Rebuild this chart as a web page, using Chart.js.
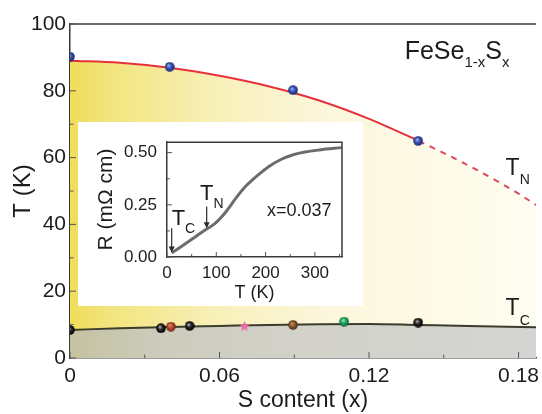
<!DOCTYPE html>
<html>
<head>
<meta charset="utf-8">
<script src="https://cdn.jsdelivr.net/npm/chart.js@4.4.1/dist/chart.umd.min.js"></script>
<style>
  html, body { margin: 0; padding: 0; background: #fff; }
  #wrap { position: relative; width: 542px; height: 414px; overflow: hidden; }
  #inset { position: absolute; left: 78px; top: 122px; width: 285px; height: 184px; background: #fff; }
  canvas { display: block; }
</style>
</head>
<body>
<div id="wrap">
  <canvas id="phaseChart" width="542" height="414"></canvas>
  <div id="inset"><canvas id="resChart" width="285" height="184"></canvas></div>
</div>
<script>
const FONT = "'Liberation Sans', Arial, sans-serif";
const TEXT = "#1c1c1c";

// T_N(x) : measured points + drawn boundary
const tnX = [0, 0.040, 0.0895, 0.1397];
const tnT = [90.2, 87.2, 80.2, 65.0];
const tnLineX = [0, 0.02, 0.04, 0.06, 0.08, 0.10, 0.12, 0.14];
const tnLineT = [89.0, 88.4, 86.9, 84.5, 81.3, 77.1, 71.6, 65.0];
const tnDashX = [0.14, 0.16, 0.18, 0.187];
const tnDashT = [65.0, 57.6, 49.2, 45.8];

// T_c(x)
const tcLineX = [0, 0.02, 0.04, 0.06, 0.08, 0.10, 0.12, 0.14, 0.16, 0.187];
const tcLineT = [8.4, 8.9, 9.3, 9.6, 9.9, 10.1, 10.2, 9.9, 9.6, 9.2];
const tcBlackX = [0, 0.0365, 0.048, 0.1397];
const tcBlackT = [8.4, 8.9, 9.6, 10.6];
const tcRedX = [0.0405];
const tcRedT = [9.4];
const tcPinkX = [0.070];
const tcPinkT = [9.6];
const tcBrownX = [0.0895];
const tcBrownT = [9.9];
const tcGreenX = [0.110];
const tcGreenT = [10.9];

const xTicks = [0, 0.06, 0.12, 0.18];
const xMinor = [0.03, 0.09, 0.15];
const yTicks = [0, 20, 40, 60, 80, 100];
const yMinor = [10, 30, 50, 70, 90];

// inset: R(T) for x = 0.037
const resT = [9.5, 20, 40, 60, 80.5, 90, 100, 110, 120, 130, 141, 160, 175, 190, 209, 230, 256, 280, 310, 354];
const resR = [0.019, 0.036, 0.068, 0.101, 0.134, 0.148, 0.166, 0.190, 0.218, 0.250, 0.286, 0.340, 0.373, 0.403, 0.437, 0.466, 0.490, 0.503, 0.513, 0.524];
const arrowT = [9.5, 80.5];
const arrowFrom = [0.138, 0.242];
const arrowTo = [0.022, 0.138];

const resXTicks = [0, 100, 200, 300];
const resXMinor = [50, 150, 250, 350];
const resYTicks = [0, 0.25, 0.5];
const resYMinor = [0.125, 0.375];

function pts(xs, ys) {
  return xs.map((x, i) => ({ x: x, y: ys[i] }));
}

function ball(light, mid, dark, size) {
  const c = document.createElement("canvas");
  c.width = c.height = size;
  const g = c.getContext("2d");
  const r = size / 2;
  const grad = g.createRadialGradient(r * 0.75, r * 0.7, 0, r, r, r);
  grad.addColorStop(0, light);
  grad.addColorStop(0.5, mid);
  grad.addColorStop(1, dark);
  g.fillStyle = grad;
  g.beginPath();
  g.arc(r, r, r - 0.2, 0, Math.PI * 2);
  g.fill();
  return c;
}

function star(color, size) {
  const c = document.createElement("canvas");
  c.width = c.height = size;
  const g = c.getContext("2d");
  const r = size / 2;
  g.fillStyle = color;
  g.beginPath();
  for (let i = 0; i < 10; i++) {
    const a = -Math.PI / 2 + i * Math.PI / 5;
    const rr = i % 2 === 0 ? r : r * 0.45;
    g.lineTo(r + rr * Math.cos(a), r + 0.6 + rr * Math.sin(a));
  }
  g.closePath();
  g.fill();
  return c;
}

const blueBall = ball("#a9bdf2", "#3553b5", "#15236a", 10);
const blackBall = ball("#c8c8c8", "#202020", "#000000", 10);
const redBall = ball("#e89080", "#b04a32", "#6a1e10", 10);
const brownBall = ball("#c89a68", "#8a5a30", "#482810", 10);
const greenBall = ball("#9af0c4", "#22aa62", "#0a5a30", 10);
const pinkStar = star("#f06aa8", 11);

function yellowFill(ctx) {
  const area = ctx.chart.chartArea;
  if (!area) return "rgba(0,0,0,0)";
  const g = ctx.chart.ctx.createLinearGradient(area.left, 0, area.right, 0);
  g.addColorStop(0, "#efdd5a");
  g.addColorStop(0.08, "#f2e47c");
  g.addColorStop(0.3, "#f8efb6");
  g.addColorStop(0.55, "#fcf7dc");
  g.addColorStop(1, "#fffdf1");
  return g;
}

function grayFill(ctx) {
  const area = ctx.chart.chartArea;
  if (!area) return "rgba(0,0,0,0)";
  const g = ctx.chart.ctx.createLinearGradient(area.left, 0, area.right, 0);
  g.addColorStop(0, "#c5c2a0");
  g.addColorStop(0.2, "#cdccbd");
  g.addColorStop(0.5, "#d2d2ca");
  g.addColorStop(1, "#d4d4d2");
  return g;
}

function markerSet(xs, ys, img) {
  return {
    data: pts(xs, ys),
    pointStyle: img,
    pointRadius: 5,
    showLine: false,
    clip: 0,
  };
}

// draws "T" + subscript style labels
function subText(ctx, x, y, parts) {
  let cx = x;
  parts.forEach(p => {
    ctx.font = p[1] + "px " + FONT;
    ctx.fillText(p[0], cx, y + p[2]);
    cx += ctx.measureText(p[0]).width;
  });
}

function inwardTicks(ctx, xs, ys, xMaj, xMin, yMaj, yMin, big, small) {
  const area = { left: xs.left, right: xs.right, top: ys.top, bottom: ys.bottom };
  ctx.beginPath();
  xMaj.forEach(v => { const p = xs.getPixelForValue(v); ctx.moveTo(p, area.bottom); ctx.lineTo(p, area.bottom - big); });
  xMin.forEach(v => { const p = xs.getPixelForValue(v); ctx.moveTo(p, area.bottom); ctx.lineTo(p, area.bottom - small); });
  yMaj.forEach(v => { const p = ys.getPixelForValue(v); ctx.moveTo(area.left, p); ctx.lineTo(area.left + big, p); });
  yMin.forEach(v => { const p = ys.getPixelForValue(v); ctx.moveTo(area.left, p); ctx.lineTo(area.left + small, p); });
  ctx.stroke();
}

const phaseDecor = {
  id: "phaseDecor",
  afterDraw(chart) {
    const ctx = chart.ctx;
    const xs = chart.scales.x;
    const ys = chart.scales.y;
    const area = chart.chartArea;
    ctx.save();
    ctx.strokeStyle = "#3a3a3a";
    ctx.lineWidth = 1.5;
    ctx.beginPath();
    ctx.moveTo(area.left, area.top);
    ctx.lineTo(area.right, area.top);
    ctx.stroke();
    ctx.lineWidth = 1;
    ctx.strokeStyle = "#555";
    inwardTicks(ctx, xs, ys, xTicks, xMinor, yTicks, yMinor, 6, 3.5);

    ctx.fillStyle = TEXT;
    ctx.textBaseline = "alphabetic";
    ctx.textAlign = "left";
    subText(ctx, xs.getPixelForValue(0.1343), ys.getPixelForValue(89.5),
      [["FeSe", 25, 0], ["1-x", 15, 8], ["S", 25, 0], ["x", 15, 8]]);
    subText(ctx, xs.getPixelForValue(0.1748), ys.getPixelForValue(54.8),
      [["T", 23, 0], ["N", 14, 9]]);
    subText(ctx, xs.getPixelForValue(0.1748), ys.getPixelForValue(12.9),
      [["T", 23, 0], ["C", 14, 10]]);
    ctx.restore();
  },
};

const resDecor = {
  id: "resDecor",
  afterDraw(chart) {
    const ctx = chart.ctx;
    const xs = chart.scales.x;
    const ys = chart.scales.y;
    const area = chart.chartArea;
    ctx.save();
    ctx.strokeStyle = "#3a3a3a";
    ctx.lineWidth = 1.5;
    ctx.beginPath();
    ctx.moveTo(area.left, area.top);
    ctx.lineTo(area.right, area.top);
    ctx.lineTo(area.right, area.bottom);
    ctx.stroke();
    ctx.lineWidth = 1;
    ctx.strokeStyle = "#555";
    inwardTicks(ctx, xs, ys, resXTicks, resXMinor, resYTicks, resYMinor, 5, 3);

    // arrows at T_c and T_N
    ctx.strokeStyle = "#2a2a2a";
    ctx.fillStyle = "#2a2a2a";
    ctx.lineWidth = 1.2;
    for (let i = 0; i < arrowT.length; i++) {
      const px = xs.getPixelForValue(arrowT[i]);
      const y0 = ys.getPixelForValue(arrowFrom[i]);
      const y1 = ys.getPixelForValue(arrowTo[i]);
      ctx.beginPath();
      ctx.moveTo(px, y0);
      ctx.lineTo(px, y1 - 5);
      ctx.stroke();
      ctx.beginPath();
      ctx.moveTo(px - 3, y1 - 6);
      ctx.lineTo(px + 3, y1 - 6);
      ctx.lineTo(px, y1);
      ctx.closePath();
      ctx.fill();
    }

    ctx.fillStyle = TEXT;
    ctx.textAlign = "left";
    ctx.textBaseline = "alphabetic";
    subText(ctx, xs.getPixelForValue(9.5), ys.getPixelForValue(0.152), [["T", 22, 0], ["C", 14, 8]]);
    subText(ctx, xs.getPixelForValue(67), ys.getPixelForValue(0.272), [["T", 22, 0], ["N", 14, 8]]);
    ctx.font = "18px " + FONT;
    ctx.fillText("x=0.037", xs.getPixelForValue(203), ys.getPixelForValue(0.198));
    ctx.restore();
  },
};

const tnFillX = tnLineX.concat(tnDashX.slice(1));
const tnFillT = tnLineT.concat(tnDashT.slice(1));

new Chart(document.getElementById("phaseChart"), {
  type: "scatter",
  data: {
    datasets: [
      markerSet(tnX, tnT, blueBall),
      markerSet(tcBlackX, tcBlackT, blackBall),
      markerSet(tcRedX, tcRedT, redBall),
      markerSet(tcPinkX, tcPinkT, pinkStar),
      markerSet(tcBrownX, tcBrownT, brownBall),
      markerSet(tcGreenX, tcGreenT, greenBall),
      {
        data: pts(tnLineX, tnLineT),
        showLine: true,
        borderColor: "#e8303c",
        borderWidth: 2,
        pointRadius: 0,
        cubicInterpolationMode: "monotone",
        fill: false,
        clip: 0,
      },
      {
        data: pts(tnDashX, tnDashT),
        showLine: true,
        borderColor: "#d9485a",
        borderWidth: 2,
        borderDash: [6, 6],
        pointRadius: 0,
        cubicInterpolationMode: "monotone",
        fill: false,
        clip: 0,
      },
      {
        data: pts(tcLineX, tcLineT),
        showLine: true,
        borderColor: "#3c3c2c",
        borderWidth: 2,
        pointRadius: 0,
        cubicInterpolationMode: "monotone",
        fill: "origin",
        backgroundColor: grayFill,
        clip: 0,
      },
      {
        data: pts(tnFillX, tnFillT),
        showLine: true,
        borderWidth: 0,
        borderColor: "rgba(0,0,0,0)",
        pointRadius: 0,
        cubicInterpolationMode: "monotone",
        fill: 8,
        backgroundColor: yellowFill,
        clip: 0,
      },
    ],
  },
  options: {
    responsive: false,
    animation: false,
    events: [],
    layout: { padding: { top: 24, right: 0, bottom: 0, left: 0 } },
    plugins: {
      legend: { display: false },
      tooltip: { enabled: false },
      filler: { drawTime: "beforeDatasetsDraw" },
    },
    scales: {
      x: {
        type: "linear",
        min: 0,
        max: 0.187,
        afterBuildTicks: s => { s.ticks = xTicks.map(v => ({ value: v })); },
        afterFit: s => { s.height = 56; s.paddingLeft = 0; s.paddingRight = 0; },
        grid: { display: false, drawTicks: false },
        border: { display: true, color: "#3a3a3a", width: 1.5 },
        ticks: {
          padding: 6,
          color: TEXT,
          autoSkip: false,
          maxRotation: 0,
          font: { family: FONT, size: 21 },
          callback: v => (v === 0 ? "0" : v.toFixed(2)),
        },
        title: {
          display: true,
          text: "S content (x)",
          color: TEXT,
          font: { family: FONT, size: 23 },
          padding: { top: 0, bottom: 0 },
        },
      },
      y: {
        type: "linear",
        min: 0,
        max: 100,
        afterBuildTicks: s => { s.ticks = yTicks.map(v => ({ value: v })); },
        afterFit: s => { s.width = 70; },
        grid: { display: false, drawTicks: false },
        border: { display: true, color: "#3a3a3a", width: 1.5 },
        ticks: {
          padding: 4,
          color: TEXT,
          font: { family: FONT, size: 21 },
        },
        title: {
          display: true,
          text: "T (K)",
          color: TEXT,
          font: { family: FONT, size: 24 },
          padding: { top: 9, bottom: 0 },
        },
      },
    },
  },
  plugins: [phaseDecor],
});

new Chart(document.getElementById("resChart"), {
  type: "scatter",
  data: {
    datasets: [
      {
        data: pts(resT, resR),
        showLine: true,
        borderColor: "#6c6c6c",
        borderWidth: 3,
        pointRadius: 0,
        cubicInterpolationMode: "monotone",
      },
    ],
  },
  options: {
    responsive: false,
    animation: false,
    events: [],
    layout: { padding: { top: 13, right: 21, bottom: 0, left: 0 } },
    plugins: { legend: { display: false }, tooltip: { enabled: false } },
    scales: {
      x: {
        type: "linear",
        min: 0,
        max: 355,
        afterBuildTicks: s => { s.ticks = resXTicks.map(v => ({ value: v })); },
        afterFit: s => { s.height = 49; s.paddingLeft = 0; s.paddingRight = 0; },
        grid: { display: false, drawTicks: false },
        border: { display: true, color: "#3a3a3a", width: 1.5 },
        ticks: { padding: 6, color: TEXT, maxRotation: 0, font: { family: FONT, size: 17 } },
        title: {
          display: true,
          text: "T (K)",
          color: TEXT,
          font: { family: FONT, size: 18 },
          padding: { top: 0, bottom: 2 },
        },
      },
      y: {
        type: "linear",
        min: 0,
        max: 0.55,
        afterBuildTicks: s => { s.ticks = resYTicks.map(v => ({ value: v })); },
        afterFit: s => { s.width = 89; },
        grid: { display: false, drawTicks: false },
        border: { display: true, color: "#3a3a3a", width: 1.5 },
        ticks: {
          padding: 10,
          color: TEXT,
          font: { family: FONT, size: 17 },
          callback: v => v.toFixed(2),
        },
        title: {
          display: true,
          text: "R (mΩ cm)",
          color: TEXT,
          font: { family: FONT, size: 21 },
          padding: { top: 16, bottom: 0 },
        },
      },
    },
  },
  plugins: [resDecor],
});
</script>
</body>
</html>
